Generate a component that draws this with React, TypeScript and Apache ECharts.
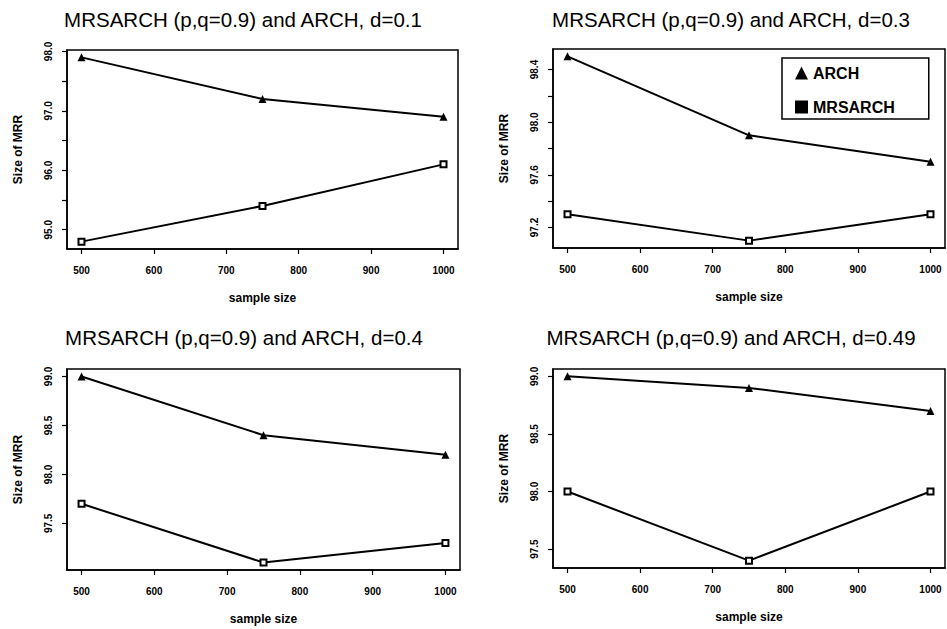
import React, { useEffect, useRef } from 'react';
import * as echarts from 'echarts';

const FONT = '"Liberation Sans", Arial, Helvetica, sans-serif';

const sampleSizes = [500, 750, 1000];
const xTickValues = [500, 600, 700, 800, 900, 1000];

const panelTitles = [
  'MRSARCH (p,q=0.9) and ARCH, d=0.1',
  'MRSARCH (p,q=0.9) and ARCH, d=0.3',
  'MRSARCH (p,q=0.9) and ARCH, d=0.4',
  'MRSARCH (p,q=0.9) and ARCH, d=0.49',
];

const archD01 = [97.9, 97.2, 96.9];
const mrsarchD01 = [94.8, 95.4, 96.1];
const archD03 = [98.5, 97.9, 97.7];
const mrsarchD03 = [97.3, 97.1, 97.3];
const archD04 = [99.0, 98.4, 98.2];
const mrsarchD04 = [97.7, 97.1, 97.3];
const archD049 = [99.0, 98.9, 98.7];
const mrsarchD049 = [98.0, 97.4, 98.0];

const yTicksD01 = [95.0, 95.5, 96.0, 96.5, 97.0, 97.5, 98.0];
const yLabelsD01 = [95.0, 96.0, 97.0, 98.0];
const yTicksD03 = [97.2, 97.4, 97.6, 97.8, 98.0, 98.2, 98.4];
const yLabelsD03 = [97.2, 97.6, 98.0, 98.4];
const yTicksD04 = [97.5, 98.0, 98.5, 99.0];
const yLabelsD04 = [97.5, 98.0, 98.5, 99.0];
const yTicksD049 = [97.5, 98.0, 98.5, 99.0];
const yLabelsD049 = [97.5, 98.0, 98.5, 99.0];

const panels = [
  { title: panelTitles[0], arch: archD01, mrsarch: mrsarchD01, ticks: yTicksD01, labels: yLabelsD01 },
  { title: panelTitles[1], arch: archD03, mrsarch: mrsarchD03, ticks: yTicksD03, labels: yLabelsD03 },
  { title: panelTitles[2], arch: archD04, mrsarch: mrsarchD04, ticks: yTicksD04, labels: yLabelsD04 },
  { title: panelTitles[3], arch: archD049, mrsarch: mrsarchD049, ticks: yTicksD049, labels: yLabelsD049 },
];

// layout (pixels)
const grids = [
  { left: 67, top: 50, width: 391, height: 199 },
  { left: 553, top: 49, width: 392, height: 199 },
  { left: 67, top: 369, width: 393, height: 201 },
  { left: 553, top: 369, width: 392, height: 199 },
];
const titlePos = [
  { x: 243, y: 9 },
  { x: 731, y: 9 },
  { x: 244, y: 327 },
  { x: 731, y: 327 },
];

function rRange(vals: number[]) {
  const lo = Math.min(...vals);
  const hi = Math.max(...vals);
  const pad = (hi - lo) * 0.04;
  return [lo - pad, hi + pad];
}

export default function App() {
  const ref = useRef<HTMLDivElement>(null);
  useEffect(() => {
    if (!ref.current) return;
    const chart = echarts.init(ref.current, undefined, { renderer: 'svg' });
    const xr = rRange(sampleSizes);

    const option: any = {
      animation: false,
      backgroundColor: '#fff',
      color: ['#000'],
      title: panels.map((p, i) => ({
        text: p.title,
        left: titlePos[i].x,
        top: titlePos[i].y,
        textAlign: 'center',
        textVerticalAlign: 'top',
        padding: 0,
        textStyle: { fontFamily: FONT, fontSize: 20.5, fontWeight: 'normal', color: '#000' },
      })),
      legend: {
        orient: 'vertical',
        left: 782,
        top: 58,
        data: [
          { name: 'ARCH', icon: 'triangle', itemStyle: { color: '#000' } },
          { name: 'MRSARCH', icon: 'rect', itemStyle: { color: '#000' } },
        ],
        itemWidth: 13,
        itemHeight: 13,
        itemGap: 18,
        padding: [7, 34, 4, 13],
        backgroundColor: '#fff',
        borderColor: '#000',
        borderWidth: 1.5,
        selectedMode: false,
        textStyle: { fontFamily: FONT, fontSize: 16, fontWeight: 'bold', color: '#000', lineHeight: 16 },
      },
      grid: grids.map((g) => ({
        ...g,
        show: true,
        borderColor: '#000',
        borderWidth: 1.5,
        backgroundColor: 'transparent',
        containLabel: false,
      })),
      xAxis: grids.map((_, i) => ({
        type: 'value',
        gridIndex: i,
        min: xr[0],
        max: xr[1],
        name: 'sample size',
        nameLocation: 'middle',
        nameGap: 43,
        nameTextStyle: { fontFamily: FONT, fontSize: 12, fontWeight: 'bold', color: '#000' },
        splitLine: { show: false },
        axisLine: { show: true, onZero: false, lineStyle: { color: '#000', width: 1.5 } },
        axisTick: { show: true, length: 5, lineStyle: { color: '#000', width: 1.2 }, customValues: xTickValues },
        axisLabel: {
          customValues: xTickValues,
          margin: 16,
          fontFamily: FONT,
          fontSize: 10,
          fontWeight: 'bold',
          color: '#000',
          formatter: (v: number) => String(Math.round(v)),
        },
      })),
      yAxis: panels.map((p, i) => {
        const yr = rRange([...p.arch, ...p.mrsarch]);
        return {
          type: 'value',
          gridIndex: i,
          min: yr[0],
          max: yr[1],
          name: 'Size of MRR',
          nameLocation: 'middle',
          nameRotate: 90,
          nameGap: 43,
          nameTextStyle: { fontFamily: FONT, fontSize: 12, fontWeight: 'bold', color: '#000' },
          splitLine: { show: false },
          axisLine: { show: true, onZero: false, lineStyle: { color: '#000', width: 1.5 } },
          axisTick: { show: true, length: 5, lineStyle: { color: '#000', width: 1.2 }, customValues: p.ticks },
          axisLabel: {
            customValues: p.labels,
            rotate: 90,
            margin: 14,
            fontFamily: FONT,
            fontSize: 10,
            fontWeight: 'bold',
            color: '#000',
            formatter: (v: number) => v.toFixed(1),
          },
        };
      }),
      series: panels.flatMap((p, i) => [
        {
          name: 'ARCH',
          type: 'line',
          xAxisIndex: i,
          yAxisIndex: i,
          data: sampleSizes.map((s, k) => [s, p.arch[k]]),
          symbol: 'triangle',
          symbolSize: 8,
          itemStyle: { color: '#000' },
          lineStyle: { color: '#000', width: 2 },
        },
        {
          name: 'MRSARCH',
          type: 'line',
          xAxisIndex: i,
          yAxisIndex: i,
          data: sampleSizes.map((s, k) => [s, p.mrsarch[k]]),
          symbol: 'emptyRect',
          symbolSize: 6,
          itemStyle: { color: '#000', borderWidth: 1.5 },
          lineStyle: { color: '#000', width: 2 },
        },
      ]),
    };
    chart.setOption(option);
    return () => chart.dispose();
  }, []);
  return (
    <div
      ref={ref}
      style={{ position: 'fixed', left: 0, top: 0, width: 947, height: 629, background: '#fff' }}
    />
  );
}
